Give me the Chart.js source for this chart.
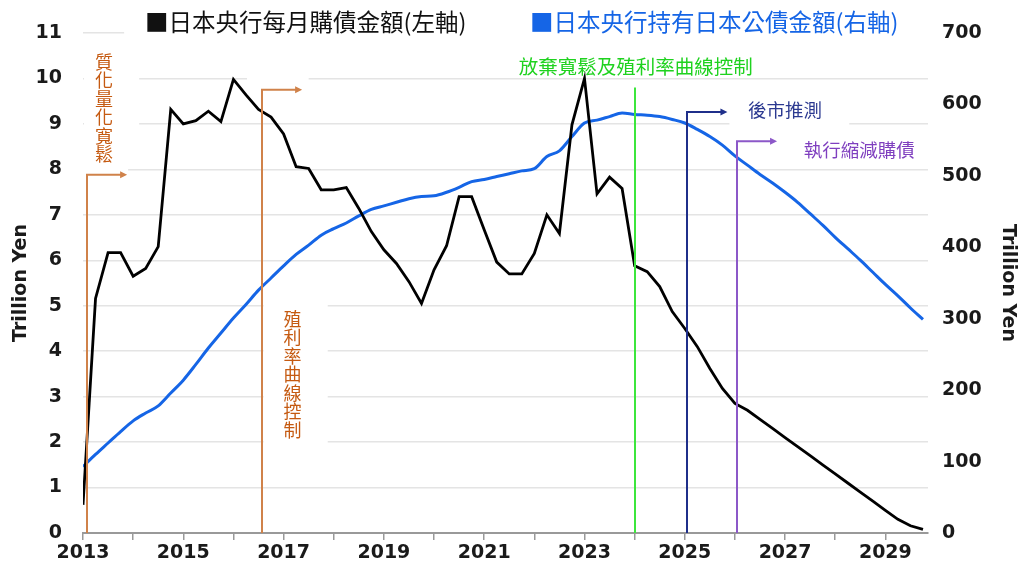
<!DOCTYPE html>
<html><head><meta charset="utf-8">
<script src="https://cdn.jsdelivr.net/npm/chart.js@4.4.1/dist/chart.umd.min.js"></script>
<style>html,body{margin:0;padding:0;background:#fff;}#wrap{width:1019px;height:569px;}</style>
</head><body><div id="wrap"><canvas id="c" width="1019" height="569"></canvas></div>
<script>
// ---------- data ----------
const quarters = [
 '2013Q1','2013Q2','2013Q3','2013Q4','2014Q1','2014Q2','2014Q3','2014Q4',
 '2015Q1','2015Q2','2015Q3','2015Q4','2016Q1','2016Q2','2016Q3','2016Q4',
 '2017Q1','2017Q2','2017Q3','2017Q4','2018Q1','2018Q2','2018Q3','2018Q4',
 '2019Q1','2019Q2','2019Q3','2019Q4','2020Q1','2020Q2','2020Q3','2020Q4',
 '2021Q1','2021Q2','2021Q3','2021Q4','2022Q1','2022Q2','2022Q3','2022Q4',
 '2023Q1','2023Q2','2023Q3','2023Q4','2024Q1','2024Q2','2024Q3','2024Q4',
 '2025Q1','2025Q2','2025Q3','2025Q4','2026Q1','2026Q2','2026Q3','2026Q4',
 '2027Q1','2027Q2','2027Q3','2027Q4','2028Q1','2028Q2','2028Q3','2028Q4',
 '2029Q1','2029Q2','2029Q3','2029Q4'];
const monthlyPurchases = [
 0.62,5.16,6.17,6.17,5.65,5.82,6.3,9.32,9.0,9.07,
 9.28,9.05,9.98,9.64,9.32,9.15,8.78,8.06,8.02,7.55,
 7.55,7.6,7.14,6.63,6.23,5.93,5.53,5.05,5.79,6.32,
 7.4,7.4,6.67,5.96,5.7,5.7,6.15,7.0,6.59,8.98,
 10.0,7.46,7.83,7.58,5.88,5.75,5.42,4.87,4.5,4.1,
 3.62,3.18,2.85,2.7,2.5,2.3,2.1,1.9,1.7,1.5,
 1.3,1.1,0.9,0.7,0.5,0.3,0.16,0.08];
const jgbHoldings = [
 93,110,126,142,157,168,178,196,214,236,
 259,280,301,320,340,357,374,390,403,417,
 426,434,444,453,458,463,468,471,472,477,
 484,492,495,499,503,507,510,527,535,555,
 574,578,583,588,586,585,583,579,574,565,
 555,543,528,515,502,490,477,463,447,431,
 414,398,382,365,348,332,315,299];
const tickYears = [2013,2014,2015,2016,2017,2018,2019,2020,2021,2022,2023,2024,2025,2026,2027,2028,2029];
const yearLabels = [2013,2015,2017,2019,2021,2023,2025,2027,2029];
const leftTicks = [0,1,2,3,4,5,6,7,8,9,10,11];
const rightTicks = [0,100,200,300,400,500,600,700];
const seriesNames = ['■日本央行每月購債金額(左軸)','■日本央行持有日本公債金額(右軸)'];
const axisTitle = 'Trillion Yen';
const eventTexts = ['質化量化寬鬆','殖利率曲線控制','放棄寬鬆及殖利率曲線控制','後市推測','執行縮減購債'];

// ---------- annotation layout (data units: x = year, y = left axis) ----------
const markers = [
 {x:2013.08, top:7.88, to:2013.88, color:'#d0824a'},
 {x:2016.57, top:9.75, to:2017.37, color:'#d0824a'},
 {x:2024.0,  top:9.80, to:null,    color:'#3ce63c'},
 {x:2025.05, top:9.26, to:2025.85, color:'#1f2f8a'},
 {x:2026.04, top:8.62, to:2026.84, color:'#8c58c8'}
];
const notes = [
 {i:0, x:2013.42, y:10.36, vertical:true, size:18, color:'#c55a11'},
 {i:1, x:2017.18, y:4.71, vertical:true, size:18, color:'#c55a11'},
 {i:2, x:2024.02, y:10.26, size:19.5, color:'#1fd21f'},
 {i:3, x:2027.0, y:9.31, size:18.5, color:'#2b3990'},
 {i:4, x:2028.48, y:8.43, size:18.5, color:'#7f3fbf'}
];
const masks = [
 [2013.82,2029.95,11.8,10.85],
 [2013.02,2014.12,10.74,8.1],
 [2012.98,2013.9,8.1,7.8],
 [2016.27,2017.5,10.15,9.85],
 [2016.6,2017.88,5.35,1.6],
 [2025.89,2028.28,9.7,8.87],
 [2026.94,2029.95,8.76,8.1]
];

const qx = q => parseInt(q.slice(0,4)) + (parseInt(q.slice(5)) - 1) / 4;
const tickFont = {family:'"DejaVu Sans"', weight:'bold', size:19};
const cjk = '"Noto Sans CJK TC"';

const annot = {
  id:'annot',
  beforeDatasetsDraw(chart){
    const ctx = chart.ctx, sx = chart.scales.x, sy = chart.scales.y;
    ctx.save(); ctx.fillStyle = '#fff';
    masks.forEach(m => {
      const x0 = sx.getPixelForValue(m[0]), x1 = sx.getPixelForValue(m[1]);
      const y0 = sy.getPixelForValue(m[2]), y1 = sy.getPixelForValue(m[3]);
      ctx.fillRect(x0, y0, x1 - x0, y1 - y0);
    });
    ctx.restore();
  },
  afterDatasetsDraw(chart){
    const ctx = chart.ctx, sx = chart.scales.x, sy = chart.scales.y;
    ctx.save();
    markers.forEach(m => {
      const px = Math.round(sx.getPixelForValue(m.x)), py = sy.getPixelForValue(m.top), base = sy.getPixelForValue(0);
      ctx.strokeStyle = m.color; ctx.fillStyle = m.color; ctx.lineWidth = 2;
      ctx.beginPath(); ctx.moveTo(px, base); ctx.lineTo(px, py);
      if (m.to !== null) {
        const ex = sx.getPixelForValue(m.to);
        ctx.lineTo(ex - 6, py); ctx.stroke();
        ctx.beginPath(); ctx.moveTo(ex, py); ctx.lineTo(ex - 7, py - 3.5); ctx.lineTo(ex - 7, py + 3.5); ctx.closePath(); ctx.fill();
      } else { ctx.stroke(); }
    });
    ctx.textAlign = 'center'; ctx.textBaseline = 'middle';
    notes.forEach(n => {
      const px = sx.getPixelForValue(n.x), py = sy.getPixelForValue(n.y);
      ctx.fillStyle = n.color;
      ctx.font = n.size + 'px ' + cjk;
      const t = eventTexts[n.i];
      if (n.vertical) {
        [...t].forEach((ch, k) => ctx.fillText(ch, px, py + k * 18.5));
      } else {
        ctx.fillText(t, px, py);
      }
    });
    ctx.textAlign = 'left';
    ctx.font = '23.5px ' + cjk;
    ctx.fillStyle = '#111'; ctx.fillText(seriesNames[0], 145, 22);
    ctx.fillStyle = '#1565e6'; ctx.fillText(seriesNames[1], 530, 22);
    ctx.restore();
  }
};

new Chart(document.getElementById('c'), {
  type:'line',
  data:{
    datasets:[
      {label:seriesNames[0], data:quarters.map((q,i)=>({x:qx(q), y:monthlyPurchases[i]})), yAxisID:'y',
       borderColor:'#000', borderWidth:2.8, pointRadius:0, tension:0, order:0},
      {label:seriesNames[1], data:quarters.map((q,i)=>({x:qx(q), y:jgbHoldings[i]})), yAxisID:'y2',
       borderColor:'#1565e6', borderWidth:3, pointRadius:0, cubicInterpolationMode:'monotone', order:1}
    ]
  },
  options:{
    responsive:false, animation:false, devicePixelRatio:1,
    layout:{padding:{top:33,left:0,right:0,bottom:0}},
    plugins:{legend:{display:false}, tooltip:{enabled:false}},
    scales:{
      x:{type:'linear', min:2013, max:2029.85,
         afterBuildTicks:s=>{s.ticks = tickYears.map(v=>({value:v}));},
         afterFit:s=>{s.height = 36;},
         ticks:{autoSkip:false, maxRotation:0, padding:2, color:'#1a1a1a', font:tickFont,
                callback:v=> yearLabels.includes(v) ? String(v) : ''},
         grid:{drawOnChartArea:false, drawTicks:true, tickLength:7, color:'#999', lineWidth:1.5},
         border:{display:true, color:'#999', width:2}},
      y:{position:'left', min:0, max:11,
         afterBuildTicks:s=>{s.ticks = leftTicks.map(v=>({value:v}));},
         afterFit:s=>{s.width = 83;},
         ticks:{padding:21, color:'#1a1a1a', font:tickFont},
         grid:{color:'#e4e4e4', lineWidth:1.5, drawTicks:false},
         border:{display:false},
         title:{display:true, text:axisTitle, color:'#1a1a1a', font:{family:'"DejaVu Sans"', weight:'bold', size:19}, padding:{top:10,bottom:0}}},
      y2:{position:'right', min:0, max:700,
         afterBuildTicks:s=>{s.ticks = rightTicks.map(v=>({value:v}));},
         afterFit:s=>{s.width = 91;},
         ticks:{padding:14, color:'#1a1a1a', font:tickFont},
         grid:{drawOnChartArea:false, drawTicks:false},
         border:{display:false},
         title:{display:true, text:axisTitle, color:'#1a1a1a', font:{family:'"DejaVu Sans"', weight:'bold', size:19}, padding:{top:0,bottom:0}}}
    }
  },
  plugins:[annot]
});
</script></body></html>
